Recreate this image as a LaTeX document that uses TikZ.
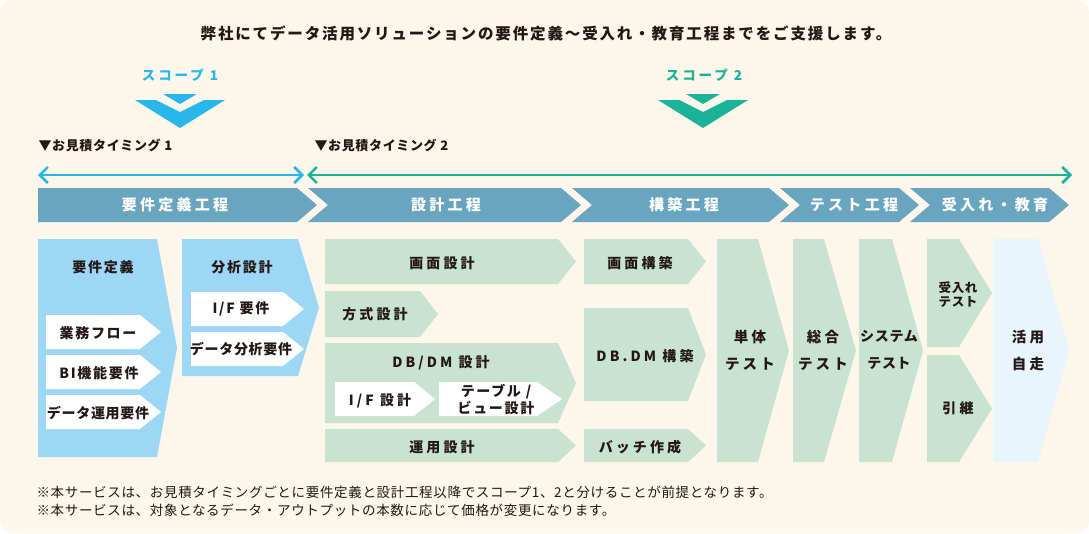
\documentclass[tikz,border=0pt]{standalone}
\usepackage{fontspec}
\setmainfont{Noto Sans CJK JP}
\newfontfamily\jpA{Noto Sans CJK JP}[LetterSpace=5]
\newfontfamily\jpB{Noto Sans CJK JP}[LetterSpace=12]
\newfontfamily\jpC{Noto Sans CJK JP}[LetterSpace=22]
\usetikzlibrary{arrows.meta}
\definecolor{cream}{HTML}{FDF6EA}
\definecolor{ink}{HTML}{231815}
\definecolor{bandclr}{HTML}{6AA5C0}
\definecolor{reqblue}{HTML}{9DD7F5}
\definecolor{grn}{HTML}{C9E3D2}
\definecolor{pale}{HTML}{E8F5FD}
\definecolor{scp1}{HTML}{29B6EC}
\definecolor{scp2}{HTML}{1BB398}
\tikzset{
  ttl/.style  ={font=\jpB\bfseries\fontsize{15.5}{17}\selectfont, text=ink},
  scplab/.style={font=\jpC\bfseries\fontsize{13.5}{15}\selectfont},
  tmg/.style  ={font=\jpA\bfseries\fontsize{13}{14}\selectfont, text=ink, anchor=west},
  bandtxt/.style={font=\jpC\bfseries\fontsize{15}{16}\selectfont, text=white},
  bluetxt/.style={font=\jpB\bfseries\fontsize{14}{15}\selectfont, text=ink},
  grntxt/.style ={font=\jpC\bfseries\fontsize{14}{15}\selectfont, text=ink},
  tall/.style   ={font=\jpC\bfseries\fontsize{14.5}{27}\selectfont, text=ink, align=center},
  note/.style   ={font=\jpA\fontsize{13.5}{14}\selectfont, text=ink, anchor=west},
  scparrow/.style={{Straight Barb[length=8pt,width=16pt]}-{Straight Barb[length=8pt,width=16pt]},
                   line width=2.6pt},
}
% pentagon arrow box: fill, x1, y1, x2, y2, tip depth
\newcommand{\pent}[6]{\fill[#1] (#2,#3) -- (#4,#3) -- ({#4+#6},{(#3+#5)/2})
  -- (#4,#5) -- (#2,#5) -- cycle;}
% process band segment: x1, x2, notch depth
\newcommand{\bandseg}[3]{\fill[bandclr] (#1,188) -- (#2,188) -- ({#2+20},205)
  -- (#2,222) -- (#1,222) -- ({#1+#3},205) -- cycle;}
% scope double chevron: centre x, colour
\newcommand{\scopemark}[2]{%
  \fill[#2] ({#1-17},94) -- ({#1+17},94) -- (#1,104) -- cycle;
  \fill[#2] ({#1-45},100) -- ({#1-24},100) -- (#1,112) -- ({#1+24},100)
    -- ({#1+45},100) -- (#1,128) -- cycle;}
\begin{document}
\begin{tikzpicture}[x=1pt,y=-1pt]
  \useasboundingbox (0,0) rectangle (1089,533);
  \fill[cream, rounded corners=12pt] (0,0) rectangle (1089,533);
  \node[ttl] (title) at (546,33) {弊社にてデータ活用ソリューションの要件定義～受入れ・教育工程までをご支援します。};

  % scopes
  \node[scplab, text=scp1] (scope1) at (180,75) {スコープ 1};
  \node[scplab, text=scp2] (scope2) at (704,75) {スコープ 2};
  \scopemark{180}{scp1}
  \scopemark{703}{scp2}
  \node[tmg] (timing1) at (35,145) {▼お見積タイミング 1};
  \node[tmg] (timing2) at (311,145) {▼お見積タイミング 2};
  \coordinate (s1a) at (38,175);
  \coordinate (s1b) at (304,175);
  \coordinate (s2a) at (307,175);
  \coordinate (s2b) at (1072,175);
  \draw[scparrow, scp1] (s1a) -- (s1b);
  \draw[scparrow, scp2] (s2a) -- (s2b);

  % process band
  \bandseg{38}{297}{0}
  \bandseg{308}{561}{20}
  \bandseg{572}{769}{20}
  \bandseg{780}{899}{20}
  \bandseg{910}{1049}{20}
  \node[bandtxt] (ph1) at (175,205) {要件定義工程};
  \node[bandtxt] (ph2) at (446,205) {設計工程};
  \node[bandtxt] (ph3) at (684,205) {構築工程};
  \node[bandtxt] (ph4) at (854,205) {テスト工程};
  \node[bandtxt] (ph5) at (995,205) {受入れ・教育};

  % requirements (blue)
  \pent{reqblue}{38}{239}{157}{457}{20}
  \pent{white}{46}{315}{140}{349}{21}
  \pent{white}{46}{355}{140}{389}{21}
  \pent{white}{46}{395}{140}{429}{21}
  \pent{reqblue}{182}{239}{298}{376}{21}
  \pent{white}{191}{292}{283}{326}{21}
  \pent{white}{191}{332}{283}{366}{21}
  \node[bluetxt] (req) at (103,267) {要件定義};
  \node[bluetxt] (flow) at (98,333) {業務フロー};
  \node[bluetxt] (bireq) at (99,373) {BI機能要件};
  \node[bluetxt, font=\jpA\bfseries\fontsize{14}{15}\selectfont] (opreq) at (98,413) {データ運用要件};
  \node[bluetxt] (ana) at (242,267) {分析設計};
  \node[bluetxt] (ifreq) at (241,309) {I/F 要件};
  \node[bluetxt, font=\jpA\bfseries\fontsize{14}{15}\selectfont] (anareq) at (241,349) {データ分析要件};

  % design (green)
  \pent{grn}{325}{239}{558}{284}{18}
  \pent{grn}{325}{291}{420}{337}{18}
  \pent{grn}{325}{343}{558}{423}{18}
  \pent{white}{335}{382}{414}{416}{21}
  \pent{white}{439}{382}{537}{416}{25}
  \pent{grn}{325}{429}{558}{462}{18}
  \node[grntxt] (scrd) at (442,263) {画面設計};
  \node[grntxt] (sysd) at (375,314) {方式設計};
  \node[grntxt] (dbd) at (441,363) {DB/DM 設計};
  \node[grntxt] (ifd) at (380,401) {I/F 設計};
  \node[grntxt, align=center, font=\jpB\bfseries\fontsize{14}{17}\selectfont]
    (tbld) at (496,400) {テーブル /\\ビュー設計};
  \node[grntxt] (opd) at (442,447) {運用設計};

  % build (green)
  \pent{grn}{584}{239}{688}{284}{18}
  \pent{grn}{584}{308}{688}{401}{18}
  \pent{grn}{584}{429}{688}{462}{18}
  \node[grntxt] (scrb) at (640,263) {画面構築};
  \node[grntxt] (dbb) at (645,356) {DB.DM 構築};
  \node[grntxt] (batch) at (640,447) {バッチ作成};

  % tests, acceptance
  \pent{grn}{717}{239}{758}{462}{31}
  \pent{grn}{793}{239}{824}{462}{32}
  \pent{grn}{859}{239}{892}{462}{31}
  \pent{grn}{927}{239}{959}{347}{33}
  \pent{grn}{927}{355}{959}{462}{33}
  \pent{pale}{993}{239}{1038}{462}{31}
  \node[tall] (unit) at (750,350) {単体\\テスト};
  \node[tall] (integ) at (823,350) {総合\\テスト};
  \node[tall, font=\jpA\bfseries\fontsize{14}{27}\selectfont] (systst) at (889,350) {システム\\テスト};
  \node[tall, font=\jpA\bfseries\fontsize{12.5}{14}\selectfont] (acc) at (958,295) {受入れ\\テスト};
  \node[grntxt] (handover) at (958,408) {引継};
  \node[tall] (selfrun) at (1028,350) {活用\\自走};

  % notes
  \node[note] (note1) at (33,492) {※本サービスは、お見積タイミングごとに要件定義と設計工程以降でスコープ1、2と分けることが前提となります。};
  \node[note] (note2) at (33,510) {※本サービスは、対象となるデータ・アウトプットの本数に応じて価格が変更になります。};
\end{tikzpicture}
\end{document}
